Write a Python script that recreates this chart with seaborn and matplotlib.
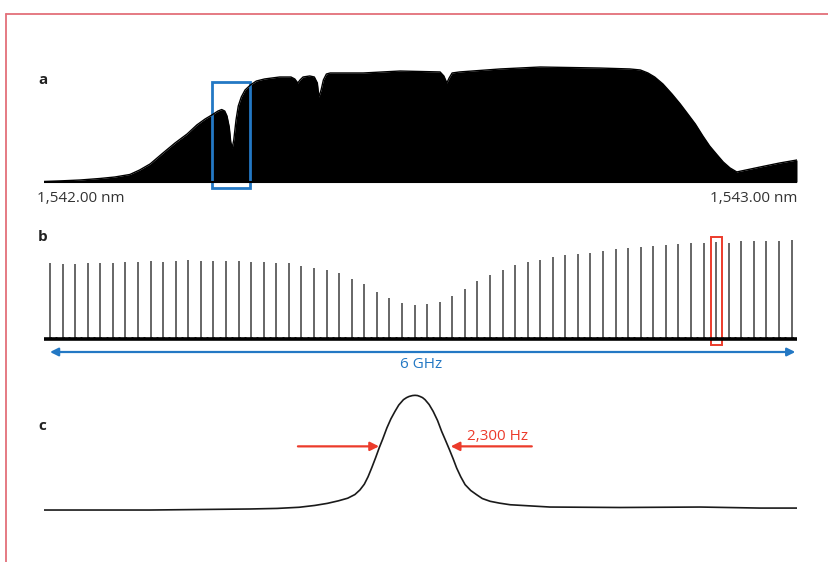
"""Three-panel spectrum figure: optical envelope, comb lines, single-line lineshape."""
import numpy as np
import pandas as pd
import matplotlib
matplotlib.use('Agg')
import matplotlib.pyplot as plt
from matplotlib.patches import Rectangle
from matplotlib.lines import Line2D
import seaborn as sns

# --- panel a: optical spectrum envelope (wavelength in nm, relative intensity)
wavelength_nm = [1542.000, 1542.021, 1542.048, 1542.074, 1542.094, 1542.114, 1542.127,
                 1542.141, 1542.158, 1542.174, 1542.190, 1542.203, 1542.214, 1542.223,
                 1542.231, 1542.236, 1542.240, 1542.243, 1542.246, 1542.248, 1542.250,
                 1542.252, 1542.255, 1542.258, 1542.262, 1542.267, 1542.274, 1542.282,
                 1542.293, 1542.313, 1542.328, 1542.333, 1542.337, 1542.340, 1542.344,
                 1542.353, 1542.359, 1542.363, 1542.365, 1542.368, 1542.371, 1542.375,
                 1542.380, 1542.424, 1542.473, 1542.526, 1542.531, 1542.535, 1542.538,
                 1542.542, 1542.552, 1542.606, 1542.659, 1542.738, 1542.778, 1542.792,
                 1542.802, 1542.811, 1542.822, 1542.834, 1542.845, 1542.854, 1542.865,
                 1542.875, 1542.884, 1542.894, 1542.902, 1542.911, 1542.920, 1542.951,
                 1542.977, 1543.000]
intensity = [0.004, 0.009, 0.017, 0.030, 0.043, 0.065, 0.104,
             0.157, 0.252, 0.339, 0.417, 0.496, 0.548, 0.583,
             0.617, 0.630, 0.617, 0.574, 0.478, 0.348, 0.296,
             0.365, 0.539, 0.661, 0.739, 0.800, 0.843, 0.878,
             0.896, 0.913, 0.913, 0.896, 0.861, 0.887, 0.913,
             0.922, 0.913, 0.861, 0.739, 0.800, 0.887, 0.939,
             0.948, 0.948, 0.965, 0.957, 0.922, 0.861, 0.904,
             0.948, 0.957, 0.983, 1.000, 0.991, 0.983, 0.974,
             0.948, 0.913, 0.852, 0.765, 0.678, 0.600, 0.504,
             0.400, 0.313, 0.235, 0.174, 0.122, 0.087, 0.130,
             0.165, 0.191]
highlight_nm = (1542.223, 1542.274)
a_tick_labels = ['1,542.00 nm', '1,543.00 nm']

# --- panel b: comb line heights (arbitrary units), 60 lines spanning 6 GHz
comb_span_ghz = 6.0
comb_heights = [75.7, 74.7, 75.0, 76.3, 76.3, 76.3, 76.7, 77.3, 77.7, 76.7,
                78.3, 78.7, 78.3, 77.7, 78.3, 78.3, 77.0, 76.7, 76.3, 75.7,
                73.3, 71.3, 69.0, 65.7, 60.0, 54.7, 47.3, 40.7, 35.7, 33.7,
                35.5, 37.3, 43.0, 50.0, 57.7, 64.0, 69.0, 74.0, 77.3, 79.3,
                81.7, 84.0, 84.7, 86.3, 88.0, 89.7, 90.7, 91.7, 93.3, 94.0,
                95.0, 95.7, 96.3, 97.3, 96.3, 97.7, 98.3, 98.3, 98.3, 99.0]
marked_line = 53
span_label = '6 GHz'

# --- panel c: single line profile (offset in kHz, normalised power)
offset_khz = [-11.85, -8.47, -5.27, -4.40, -3.70, -3.20, -2.80, -2.45, -2.15, -1.92,
              -1.76, -1.62, -1.50, -1.38, -1.26, -1.14, -1.03, -0.90, -0.77, -0.64,
              -0.52, -0.37, -0.27, -0.19, -0.08, 0.00, 0.08, 0.16, 0.24, 0.32,
              0.45, 0.58, 0.72, 0.85, 0.97, 1.10, 1.22, 1.33, 1.46, 1.60,
              1.78, 1.97, 2.15, 2.40, 2.70, 3.04, 4.31, 6.55, 9.11, 11.02, 12.20]
power = [0.000, 0.000, 0.009, 0.014, 0.024, 0.040, 0.058, 0.080, 0.103, 0.135,
         0.175, 0.225, 0.290, 0.370, 0.455, 0.545, 0.620, 0.715, 0.795, 0.860,
         0.915, 0.962, 0.980, 0.990, 0.998, 1.000, 0.998, 0.990, 0.980, 0.962,
         0.920, 0.860, 0.780, 0.686, 0.610, 0.526, 0.445, 0.366, 0.290, 0.221,
         0.170, 0.133, 0.100, 0.076, 0.060, 0.046, 0.026, 0.022, 0.026, 0.017, 0.017]
fwhm_label = '2,300 Hz'
fwhm_khz = (-1.15, 1.14)

BLUE = '#2378c4'
RED = '#ec3b2b'
TEXT = '#333333'

sns.set_theme(style='white')
plt.rcParams['font.family'] = ['Open Sans', 'DejaVu Sans']

W, H = 829, 562
fig = plt.figure(figsize=(W / 100, H / 100), dpi=100)


def px_axes(x0, y0, x1, y1):
    """Axes placed by pixel box (top-left origin)."""
    ax = fig.add_axes([x0 / W, 1 - y1 / H, (x1 - x0) / W, (y1 - y0) / H])
    ax.set_axis_off()
    return ax


# frame lines (top and left)
fig.add_artist(Line2D([6 / W, 1], [1 - 14 / H, 1 - 14 / H], color='#e3707a', lw=1.3,
                      transform=fig.transFigure))
fig.add_artist(Line2D([6 / W, 6 / W], [0, 1 - 14 / H], color='#e3707a', lw=1.3,
                      transform=fig.transFigure))

# ---------------- panel a
ax_a = px_axes(44, 64.7, 797, 190)
df_a = pd.DataFrame({'nm': wavelength_nm, 'I': intensity})
ax_a.fill_between(df_a['nm'], 0, df_a['I'], color='black', lw=0)
sns.lineplot(data=df_a, x='nm', y='I', ax=ax_a, color='black', lw=1.0)
ax_a.plot([wavelength_nm[0], wavelength_nm[-1]], [0, 0], color='black', lw=1.5)
ax_a.plot([wavelength_nm[-1]] * 2, [0, intensity[-1]], color='black', lw=1.0)
ax_a.add_patch(Rectangle((highlight_nm[0], -0.052), highlight_nm[1] - highlight_nm[0], 0.922,
                         fill=False, ec=BLUE, lw=2.0, clip_on=False))
ax_a.set_xlim(1542.0, 1543.0)
ax_a.set_ylim(-0.07, 1.02)
ax_a.set_axis_off()
fig.text(37 / W, 1 - 199 / H, a_tick_labels[0], ha='left', va='center', fontsize=11, color=TEXT)
fig.text(797 / W, 1 - 199 / H, a_tick_labels[1], ha='right', va='center', fontsize=11, color=TEXT)
fig.text(38 / W, 1 - 80 / H, 'a', ha='left', va='center', fontsize=11, fontweight='bold', color='#222222')

# ---------------- panel b
ax_b = px_axes(44, 234, 797, 357)
spacing = comb_span_ghz / (len(comb_heights) - 1)
comb_pos = np.arange(len(comb_heights)) * spacing
ax_b.vlines(comb_pos, 0, comb_heights, color='#4d4d4d', lw=1.2)
ax_b.plot([-6 / 123.6, 747 / 123.6], [0, 0], color='black', lw=2.6, solid_capstyle='butt')
ax_b.scatter(comb_pos[:-1] + spacing / 2, np.full(len(comb_pos) - 1, 1.2), s=4, color='black', lw=0)
ax_b.scatter(comb_pos, np.full(len(comb_pos), 1.2), s=5, color='black', lw=0)
ax_b.add_patch(Rectangle((comb_pos[marked_line] - 0.045, -6), 0.09, 108,
                         fill=False, ec=RED, lw=1.4, clip_on=False))
ax_b.annotate('', xy=(0.0, -13), xytext=(comb_span_ghz + 0.03, -13),
              arrowprops=dict(arrowstyle='<|-|>', color=BLUE, lw=1.6,
                              mutation_scale=12, shrinkA=0, shrinkB=0))
ax_b.text(comb_span_ghz / 2, -25, span_label, ha='center', va='center', fontsize=11, color=BLUE)
ax_b.set_xlim(-6 / 123.6, 747 / 123.6)
ax_b.set_ylim(-18, 105)
ax_b.set_axis_off()
fig.text(38 / W, 1 - 237 / H, 'b', ha='left', va='center', fontsize=11, fontweight='bold', color='#222222')

# ---------------- panel c
ax_c = px_axes(44, 385, 797, 520)
df_c = pd.DataFrame({'kHz': offset_khz, 'P': power})
sns.lineplot(data=df_c, x='kHz', y='P', ax=ax_c, color='#1a1a1a', lw=1.2)
ax_c.annotate('', xy=(fwhm_khz[0], 0.555), xytext=(-3.74, 0.555),
              arrowprops=dict(arrowstyle='-|>', color=RED, lw=1.6, mutation_scale=13,
                              shrinkA=0, shrinkB=0))
ax_c.annotate('', xy=(fwhm_khz[1], 0.555), xytext=(3.73, 0.555),
              arrowprops=dict(arrowstyle='-|>', color=RED, lw=1.6, mutation_scale=13,
                              shrinkA=0, shrinkB=0))
ax_c.text(2.64, 0.645, fwhm_label, ha='center', va='center', fontsize=11, color=RED)
ax_c.set_xlim(-11.85, 12.20)
ax_c.set_ylim(-0.087, 1.09)
ax_c.set_axis_off()
fig.text(38 / W, 1 - 426 / H, 'c', ha='left', va='center', fontsize=11, fontweight='bold', color='#222222')

fig.savefig('out.png', dpi=100)
